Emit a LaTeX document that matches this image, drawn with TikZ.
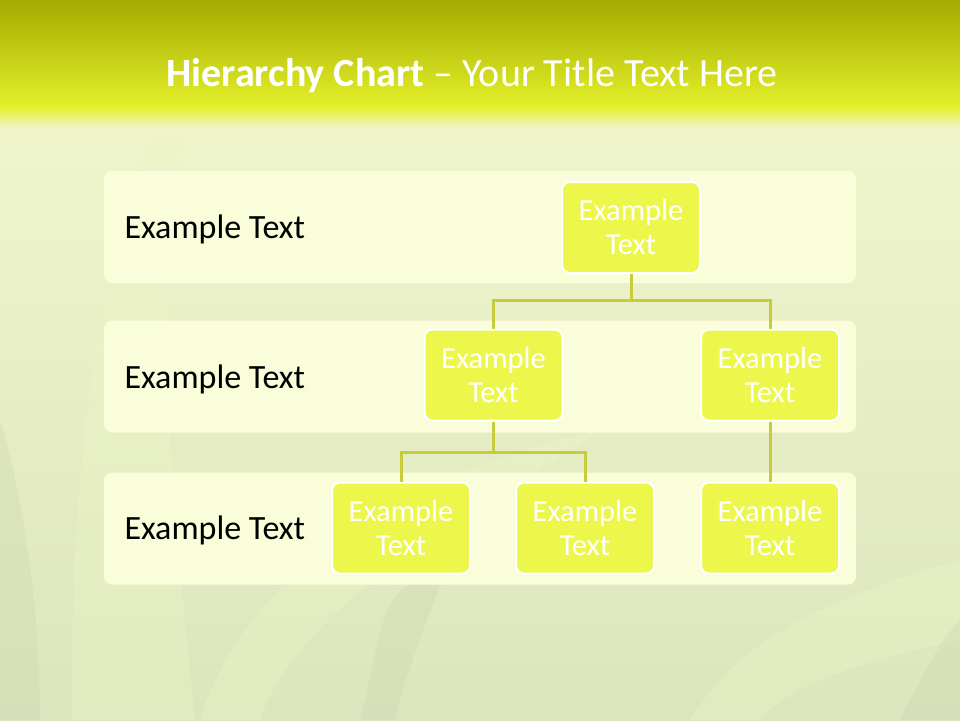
\documentclass[tikz,border=0pt]{standalone}
\usepackage{fontspec}
\setmainfont{Carlito}
\usetikzlibrary{positioning}

\definecolor{bannerTop}{HTML}{A5AB00}
\definecolor{bannerBot}{HTML}{E4F02A}
\definecolor{bgTop}{HTML}{F0F5CC}
\definecolor{bgBot}{HTML}{DCE5BE}
\definecolor{leafLight}{HTML}{EDF5C4}
\definecolor{leafDark}{HTML}{CCD6B0}
\definecolor{bandFill}{HTML}{FAFDDA}
\definecolor{boxFill}{HTML}{EDF74B}
\definecolor{linkCol}{HTML}{C6CC3C}

\begin{document}
\begin{tikzpicture}[
        x=1pt, y=-1pt,
        band/.style={fill=bandFill, rounded corners=8pt, minimum width=752pt, minimum height=112pt, inner sep=0pt},
        label/.style={font=\fontsize{34}{38}\selectfont, anchor=west, text=black},
        box/.style={draw=white, line width=2pt, fill=boxFill, rounded corners=8pt, align=center,
            minimum width=138pt, minimum height=91pt, inner sep=0pt, text=white,
            font=\fontsize{30.5}{34}\selectfont},
        link/.style={draw=linkCol, line width=3pt},
        leaf/.style={fill=#1, opacity=0.35}
    ]
        % background and title bar
        \useasboundingbox (0,0) rectangle (960,720);
        \shade[top color=bgTop, bottom color=bgBot] (0,105) rectangle (960,720);
        \fill[leaf=leafLight] (72,720) .. controls (70,500) and (90,300) .. (150,130)
            -- (185,130) .. controls (150,320) and (175,520) .. (195,720) -- cycle;
        \fill[leaf=leafDark] (0,420) .. controls (30,520) and (40,640) .. (40,720) -- (0,720) -- cycle;
        \fill[leaf=leafLight] (200,720) .. controls (250,560) and (420,470) .. (600,430)
            .. controls (470,520) and (300,600) .. (260,720) -- cycle;
        \fill[leaf=leafDark] (360,720) .. controls (380,640) and (380,600) .. (410,585)
            -- (440,585) .. controls (420,640) and (400,690) .. (395,720) -- cycle;
        \fill[leaf=leafLight] (690,720) .. controls (740,640) and (820,600) .. (960,560)
            -- (960,640) .. controls (860,660) and (780,690) .. (760,720) -- cycle;
        \fill[leaf=leafDark] (900,720) .. controls (920,680) and (940,640) .. (960,620)
            -- (960,720) -- cycle;
        \shade[top color=bannerTop, bottom color=bannerBot] (0,0) rectangle (960,108);
        \shade[top color=bannerBot, bottom color=bgTop] (0,107) rectangle (960,128);
        \node[text=white, font=\fontsize{40}{44}\selectfont] (title) at (472,76)
            {\textbf{Hierarchy Chart} – Your Title Text Here};

        % level bands
        \node[band] (row1) at (480,227) {};
        \node[band] (row2) at (480,376.5) {};
        \node[band] (row3) at (480,528.5) {};
        \node[label] (lab1) at (121,229) {Example Text};
        \node[label] (lab2) at (121,379) {Example Text};
        \node[label] (lab3) at (121,530) {Example Text};

        % chart boxes
        \node[box] (top) at (631,227.5) {Example\\Text};
        \node[box] (midL) at (493.5,375) {Example\\Text};
        \node[box] (midR) at (770,375) {Example\\Text};
        \node[box] (lowA) at (401,528) {Example\\Text};
        \node[box] (lowB) at (585,528) {Example\\Text};
        \node[box] (lowC) at (770,528) {Example\\Text};

        % connectors
        \coordinate (forkTop) at (631,300);
        \coordinate (forkMid) at (493.5,452);
        \draw[link] (top.south) -- (forkTop);
        \draw[link] (forkTop) -| (midL.north);
        \draw[link] (forkTop) -| (midR.north);
        \draw[link] (midL.south) -- (forkMid);
        \draw[link] (forkMid) -| (lowA.north);
        \draw[link] (forkMid) -| (lowB.north);
        \draw[link] (midR.south) -- (lowC.north);
    \end{tikzpicture}
\end{document}
